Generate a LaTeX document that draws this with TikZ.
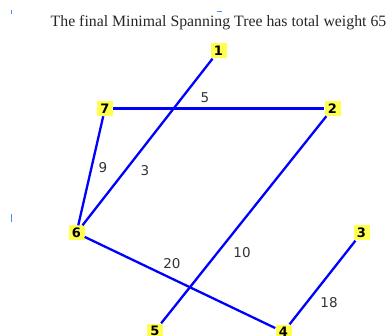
\documentclass[tikz,border=0pt]{standalone}
\usepackage{fontspec}
\setmainfont{Liberation Serif}
\newfontfamily\labelfont{DejaVu Sans}
\usetikzlibrary{positioning,calc,arrows.meta}
\definecolor{treeblue}{RGB}{0,0,255}
\definecolor{tickblue}{RGB}{70,140,255}
\definecolor{vertyellow}{RGB}{255,255,80}

\begin{document}
\begin{tikzpicture}[
    x=1pt, y=-1pt,
    vertex/.style={fill=vertyellow, inner sep=0pt, minimum width=16pt, minimum height=15pt,
        font=\labelfont\bfseries\fontsize{13}{13}\selectfont},
    weight/.style={inner sep=0pt, font=\labelfont\fontsize{13.5}{13.5}\selectfont, text=black!80},
    treeedge/.style={treeblue, line width=2.3pt}
]
\useasboundingbox (0,0) rectangle (390,336);
\clip (0,0) rectangle (390,336);

\node[font=\fontsize{15.8}{18}\selectfont, text=black!85] (title) at (218.5,23) {The final Minimal Spanning Tree has total weight 65};

\node[vertex] (v1) at (218.5,51) {1};
\node[vertex] (v7) at (105,108.5) {7};
\node[vertex] (v2) at (332.5,108.5) {2};
\node[vertex] (v6) at (76.5,233) {6};
\node[vertex] (v3) at (361.5,233) {3};
\node[vertex] (v5) at (155,331) {5};
\node[vertex] (v4) at (283.5,332) {4};

% tree edges
\draw[treeedge] (v1) -- (v6);
\draw[treeedge] (v7) -- (v2);
\draw[treeedge] (v7) -- (v6);
\draw[treeedge] (v2) -- (v5);
\draw[treeedge] (v6) -- (v4);
\draw[treeedge] (v3) -- (v4);

% weights
\node[weight] (w72) at (205,98) {5};
\node[weight] (w76) at (103,168) {9};
\node[weight] (w16) at (145,171) {3};
\node[weight] (w25) at (242,253) {10};
\node[weight] (w64) at (172,264) {20};
\node[weight] (w34) at (329,303) {18};

% stray ticks
\draw[tickblue, line width=1pt] (11,10) -- (11,14);
\draw[tickblue, line width=1pt] (217,12) -- (221.5,12);
\draw[tickblue, line width=1pt] (11,214) -- (11,222);
\end{tikzpicture}
\end{document}
